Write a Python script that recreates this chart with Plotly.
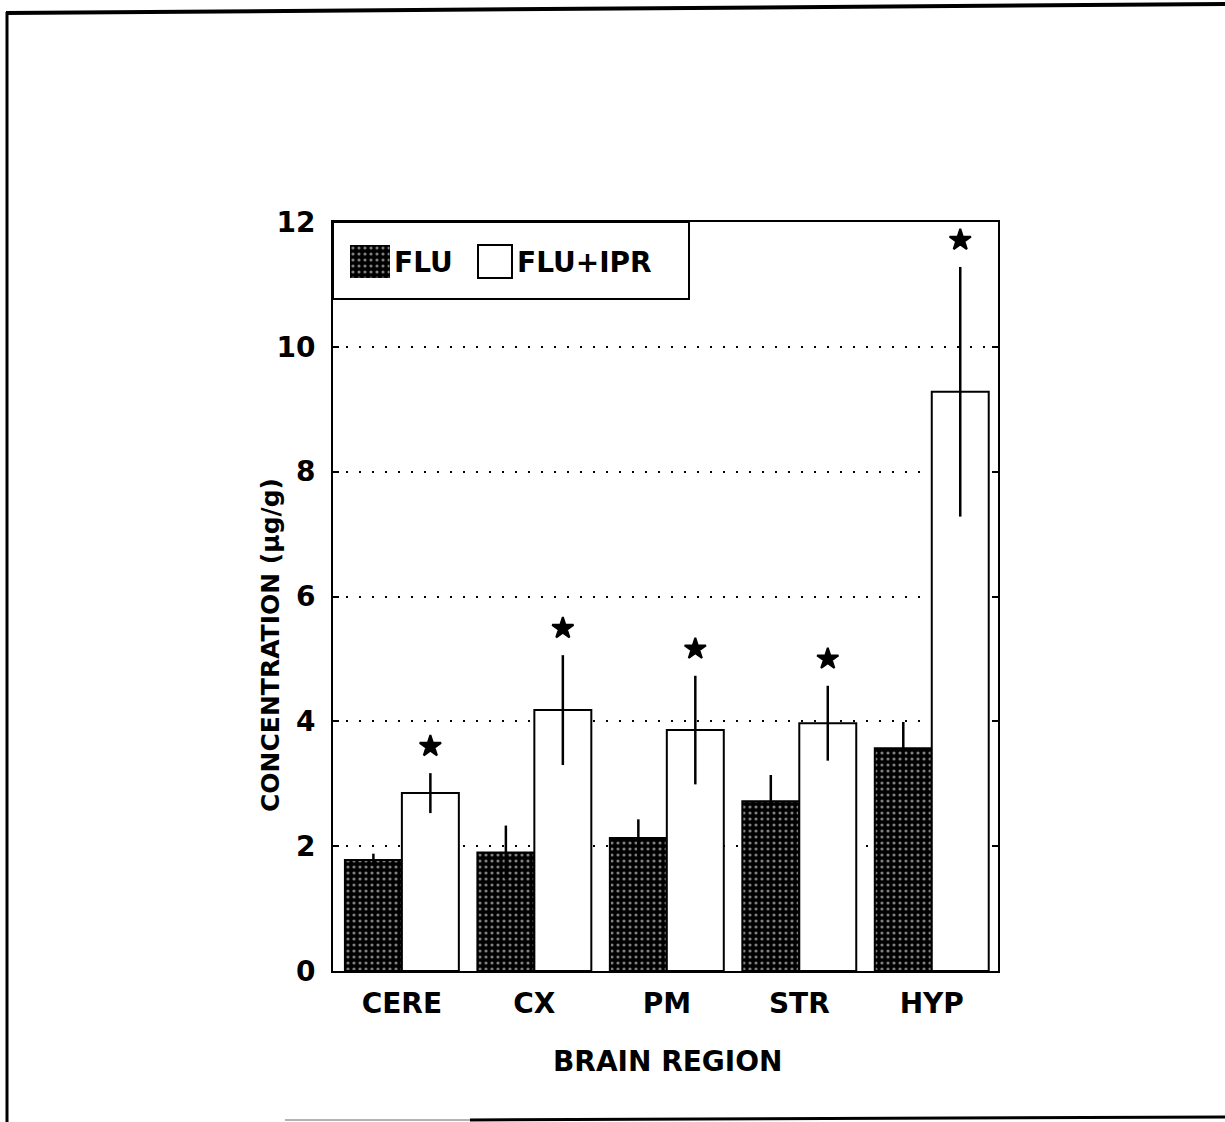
import plotly.graph_objects as go

# Brain region concentrations (ug/g), mean and error
regions = ["CERE", "CX", "PM", "STR", "HYP"]
flu_mean = [1.78, 1.90, 2.13, 2.72, 3.57]
flu_err = [0.10, 0.43, 0.30, 0.42, 0.42]
ipr_mean = [2.85, 4.18, 3.86, 3.97, 9.28]
ipr_err = [0.32, 0.88, 0.87, 0.60, 2.00]
y_ticks = [0, 2, 4, 6, 8, 10, 12]
series_names = ["FLU", "FLU+IPR"]

FONT = "DejaVu Sans"
BAR_W = 0.43
STAR_GAP = 0.43

W, H = 1225, 1122
PL, PR, PT, PB = 333, 998, 222, 971


def px_x(x):
    return (x - PL) / (PR - PL)


def px_y(y):
    return (PB - y) / (PB - PT)


idx = list(range(len(regions)))
dot_pattern = dict(shape=".", fgcolor="white", bgcolor="black", size=6, solidity=0.22)

fig = go.Figure()

fig.add_trace(go.Bar(
    x=idx, y=flu_mean, width=BAR_W, offset=-BAR_W, name=series_names[0],
    marker=dict(color="black", pattern=dot_pattern, line=dict(color="black", width=2)),
    error_y=dict(type="data", array=flu_err, visible=True, color="black", thickness=2.5, width=0),
    showlegend=False,
))
fig.add_trace(go.Bar(
    x=idx, y=ipr_mean, width=BAR_W, offset=0, name=series_names[1],
    marker=dict(color="white", line=dict(color="black", width=2)),
    error_y=dict(type="data", array=ipr_err, visible=True, color="black", thickness=2.5, width=0),
    showlegend=False,
))

# significance stars above each FLU+IPR error bar
star_x = [i + BAR_W / 2 for i in idx]
star_y = [m + e + STAR_GAP for m, e in zip(ipr_mean, ipr_err)]
fig.add_trace(go.Scatter(
    x=star_x, y=star_y, mode="markers",
    marker=dict(symbol="star", size=16, color="black", line=dict(color="black", width=2)),
    showlegend=False, cliponaxis=False, hoverinfo="skip",
))

# patterned key swatch for the FLU series
fig.add_trace(go.Bar(
    x=[0.5], y=[1], width=1, xaxis="x2", yaxis="y2",
    marker=dict(color="black", pattern=dot_pattern, line=dict(color="black", width=1)),
    showlegend=False, hoverinfo="skip",
))

tick_font = dict(family=FONT, size=28, color="black", weight="bold")

fig.update_layout(
    width=W, height=H,
    margin=dict(l=PL, r=W - PR, t=PT, b=H - PB, pad=0),
    paper_bgcolor="white", plot_bgcolor="white",
    barmode="overlay",
    hovermode=False,
    font=dict(family=FONT, color="black"),
    xaxis=dict(
        range=[-0.52, 4.5], tickmode="array", tickvals=idx, ticktext=regions,
        tickfont=tick_font, ticks="", showgrid=False, zeroline=False,
        showline=True, linecolor="black", linewidth=2, mirror=True,
        ticklabelstandoff=6,
    ),
    yaxis=dict(
        range=[0, 12], tickmode="array", tickvals=y_ticks,
        tickfont=tick_font, ticks="inside", ticklen=6, tickwidth=2, tickcolor="black",
        showgrid=True, gridcolor="black", gridwidth=2, griddash="2px,11px",
        zeroline=False, showline=True, linecolor="black", linewidth=2, mirror="ticks",
        ticklabelstandoff=10,
    ),
    xaxis2=dict(domain=[px_x(350), px_x(390)], anchor="y2", range=[0, 1], visible=False),
    yaxis2=dict(domain=[px_y(278), px_y(245)], anchor="x2", range=[0, 1], visible=False),
)

shapes = [
    # key box
    dict(type="rect", xref="paper", yref="paper",
         x0=px_x(333), x1=px_x(689), y0=px_y(299), y1=px_y(222),
         line=dict(color="black", width=2), fillcolor="rgba(0,0,0,0)", layer="above"),
    # open swatch for FLU+IPR
    dict(type="rect", xref="paper", yref="paper",
         x0=px_x(478), x1=px_x(512), y0=px_y(278), y1=px_y(245),
         line=dict(color="black", width=2), fillcolor="white", layer="above"),
    # page frame
    dict(type="line", xref="paper", yref="paper",
         x0=px_x(6), y0=px_y(13), x1=px_x(1225), y1=px_y(4),
         line=dict(color="black", width=4)),
    dict(type="line", xref="paper", yref="paper",
         x0=px_x(7), y0=px_y(12), x1=px_x(7), y1=px_y(1122),
         line=dict(color="black", width=3)),
    dict(type="line", xref="paper", yref="paper",
         x0=px_x(285), y0=px_y(1120), x1=px_x(470), y1=px_y(1120),
         line=dict(color="#9a9a9a", width=1.5)),
    dict(type="line", xref="paper", yref="paper",
         x0=px_x(470), y0=px_y(1120), x1=px_x(1225), y1=px_y(1117),
         line=dict(color="black", width=3)),
]
fig.update_layout(shapes=shapes)

key_font = dict(family=FONT, size=28, color="black", weight="bold")
annotations = [
    dict(text=series_names[0], xref="paper", yref="paper", x=px_x(392), y=px_y(262),
         xanchor="left", yanchor="middle", showarrow=False, font=key_font),
    dict(text=series_names[1], xref="paper", yref="paper", x=px_x(515), y=px_y(262),
         xanchor="left", yanchor="middle", showarrow=False, font=key_font),
    dict(text="CONCENTRATION (\u03bcg/g)", xref="paper", yref="paper",
         x=px_x(270), y=px_y(645), textangle=-90, xanchor="center", yanchor="middle",
         showarrow=False, font=dict(family=FONT, size=25, color="black", weight="bold")),
    dict(text="BRAIN REGION", xref="paper", yref="paper",
         x=px_x(668), y=px_y(1061), xanchor="center", yanchor="middle",
         showarrow=False, font=dict(family=FONT, size=28, color="black", weight="bold")),
]
fig.update_layout(annotations=annotations)

fig.write_html("out.html")
